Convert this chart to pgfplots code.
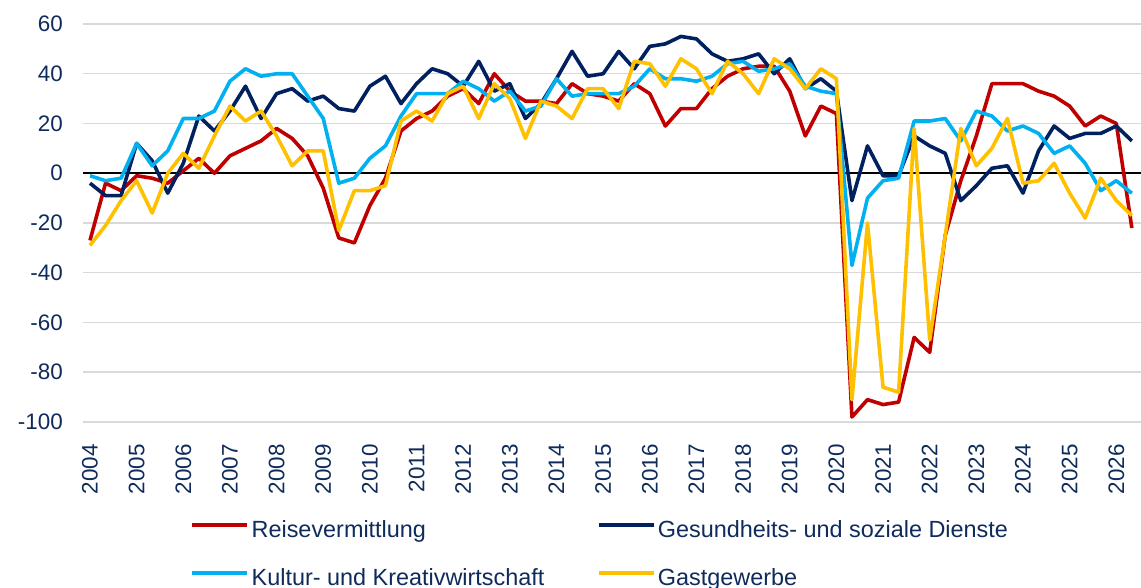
\documentclass[border=0pt]{standalone}
\usepackage{fontspec}
\setmainfont{Liberation Sans}
\usepackage{pgfplots}
\usepackage{pgfplotstable}
\pgfplotsset{compat=1.18}
\definecolor{cRed}{HTML}{C00000}
\definecolor{cNavy}{HTML}{002060}
\definecolor{cCyan}{HTML}{00B0F0}
\definecolor{cYel}{HTML}{FFC000}
\definecolor{cTxt}{HTML}{0F2B5B}
\definecolor{cGrid}{HTML}{D9D9D9}
\pgfplotstableread{
i red navy cyan yellow
0 -27 -4 -1 -29
1 -4 -9 -3 -21
2 -7 -9 -2 -11
3 -1 12 12 -3
4 -2 5 3 -16
5 -4 -8 9 0
6 1 4 22 8
7 6 23 22 2
8 0 17 25 15
9 7 25 37 27
10 10 35 42 21
11 13 22 39 25
12 18 32 40 15
13 14 34 40 3
14 7 29 31 9
15 -6 31 22 9
16 -26 26 -4 -23
17 -28 25 -2 -7
18 -13 35 6 -7
19 -2 39 11 -5
20 17 28 23 21
21 22 36 32 25
22 25 42 32 21
23 31 40 32 32
24 34 35 37 35
25 28 45 34 22
26 40 33 29 36
27 33 36 33 30
28 29 22 25 14
29 29 28 27 29
30 28 38 38 27
31 36 49 31 22
32 32 39 32 34
33 31 40 32 34
34 29 49 32 26
35 36 42 35 45
36 32 51 42 44
37 19 52 38 35
38 26 55 38 46
39 26 54 37 42
40 34 48 39 32
41 39 45 44 45
42 42 46 45 40
43 43 48 41 32
44 43 40 42 46
45 33 46 44 42
46 15 34 35 34
47 27 38 33 42
48 24 33 32 38
49 -98 -11 -37 -91
50 -91 11 -10 -20
51 -93 -1 -3 -86
52 -92 -1 -2 -88
53 -66 15 21 18
54 -72 11 21 -67
55 -25 8 22 -25
56 -3 -11 13 18
57 15 -5 25 3
58 36 2 23 10
59 36 3 17 22
60 36 -8 19 -4
61 33 9 16 -3
62 31 19 8 4
63 27 14 11 -8
64 19 16 4 -18
65 23 16 -7 -2
66 20 19 -3 -11
67 -22 13 -8 -17
}\data
\begin{document}
\begin{tikzpicture}
\begin{axis}[
  at={(83bp,166bp)}, anchor=south west,
  scale only axis, width=1058bp, height=398bp,
  xmin=-0.45, xmax=67.59, ymin=-100, ymax=60,
  axis line style={draw=none},
  tick style={draw=none},
  ytick={-100,-80,-60,-40,-20,0,20,40,60},
  yticklabels={-100,-80,-60,-40,-20,0,20,40,60},
  xtick={0,3,...,66},
  xticklabels={2004,2005,2006,2007,2008,2009,2010,2011,2012,2013,2014,2015,2016,2017,2018,2019,2020,2021,2022,2023,2024,2025,2026},
  ymajorgrids, grid style={color=cGrid, line width=1.5bp},
  extra y ticks={0}, extra y tick labels={},
  extra y tick style={grid style={black, line width=1.6bp}},
  ticklabel style={font=\fontsize{22.5}{26}\selectfont, text=cTxt},
  yticklabel style={inner sep=0pt, xshift=-20bp},
  xticklabel style={yshift=-22bp, rotate=90, anchor=east, inner sep=0pt},
  legend columns=2,
  legend cell align=left,
  legend style={at={(axis description cs:0.1011,-0.246)}, anchor=north west,
    draw=none, fill=none, inner sep=0pt,
    font=\fontsize{23.5}{27}\selectfont, text=cTxt,
    nodes={inner xsep=2bp, inner ysep=0pt, text height=17bp, text depth=5bp},
    row sep=26bp,
    /tikz/every even column/.append style={column sep=50bp}},
  legend image code/.code={\draw[#1, line width=4.5bp] (0bp,6bp) -- (55bp,6bp);},
  every axis plot/.append style={line width=3.6bp, line join=round},
]
\addplot[cRed] table[x=i, y=red] {\data};
\addlegendentry{Reisevermittlung}
\addplot[cNavy] table[x=i, y=navy] {\data};
\addlegendentry{Gesundheits- und soziale Dienste}
\addplot[cCyan] table[x=i, y=cyan] {\data};
\addlegendentry{Kultur- und Kreativwirtschaft}
\addplot[cYel] table[x=i, y=yellow] {\data};
\addlegendentry{Gastgewerbe}
\end{axis}
\pgfresetboundingbox
\useasboundingbox (0,0) rectangle (1141bp,588bp);
\end{tikzpicture}
\end{document}
